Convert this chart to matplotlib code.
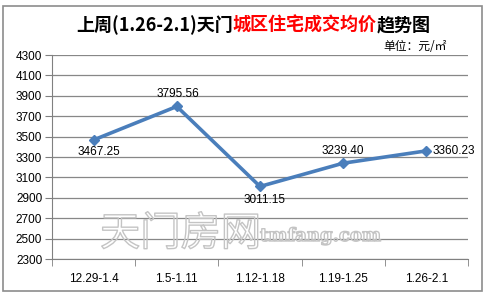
import matplotlib
matplotlib.use("Agg")
import matplotlib.pyplot as plt
import matplotlib.patheffects as pe
from matplotlib.patches import Rectangle

plt.rcParams['font.family'] = ['Noto Sans CJK SC', 'DejaVu Sans']

categories = ["12.29-1.4", "1.5-1.11", "1.12-1.18", "1.19-1.25", "1.26-2.1"]
values = [3467.25, 3795.56, 3011.15, 3239.40, 3360.23]
labels = ["3467.25", "3795.56", "3011.15", "3239.40", "3360.23"]
yticks = list(range(2300, 4301, 200))

W, H = 487, 297
fig = plt.figure(figsize=(W/100, H/100), dpi=100)
fig.patch.set_facecolor("white")

# chart border
fig.patches.append(Rectangle((3/W, 6/H), 479/W, 285/H, transform=fig.transFigure,
                             fill=False, edgecolor="#8c8c8c", linewidth=1.2))

ax = fig.add_axes([52/W, 1-259/H, 416/W, 204/H])
x = list(range(len(categories)))
ax.plot(x, values, color="#4a7ebb", linewidth=2.6, marker="D", markersize=5.5, zorder=3)
ax.set_xlim(-0.5, len(categories)-0.5)
ax.set_ylim(2300, 4300)
ax.set_yticks(yticks)
lf = ['Liberation Sans', 'DejaVu Sans']
ax.set_yticklabels([str(v) for v in yticks], fontsize=8.5, family=lf)
ax.set_xticks(x)
ax.set_xticklabels(categories, fontsize=8.5, family=lf)
ax.set_xticks([i-0.5 for i in range(len(categories)+1)], minor=True)
ax.tick_params(axis='x', which='major', length=0, pad=10)
ax.tick_params(axis='x', which='minor', length=5, color="#808080")
ax.tick_params(axis='y', length=5, color="#808080", pad=2)
ax.grid(axis='y', color="#878787", linewidth=0.9)
ax.set_axisbelow(True)
for s in ["top", "right"]:
    ax.spines[s].set_visible(False)
for s in ["left", "bottom"]:
    ax.spines[s].set_color("#808080")

offsets = [(4, -9), (1, 9), (3, -10), (0, 9), (20, 0)]
for xi, v, lab, off in zip(x, values, labels, offsets):
    ax.annotate(lab, (xi, v), xytext=off, textcoords="offset points", ha="center", va="center",
                fontsize=8.5, family=lf, zorder=4)

# watermark (outline only)
wm_fx = [pe.Stroke(linewidth=1.0, foreground="#c4c4c4")]
fig.text(100/W, 1-234/H, "天门房网", ha="left", va="center", fontsize=29,
         color="none", path_effects=wm_fx, zorder=5)
fig.text(260/W, 1-236/H, "tmfang.com", ha="left", va="center", fontsize=13, fontweight="bold",
         family=['DejaVu Serif'], color="none", path_effects=wm_fx, zorder=5)

# title
renderer = fig.canvas.get_renderer()
parts = [("上周(1.26-2.1)天门", "black"), ("城区住宅成交均价", "#ff0000"), ("趋势图", "black")]
texts = []
for s, c in parts:
    tt = fig.text(0, 1-25/H, s, ha="left", va="center", fontsize=13, fontweight="bold", color=c)
    texts.append(tt)
widths = [tt.get_window_extent(renderer).width for tt in texts]
total = sum(widths)
start = (W - total) / 2 + 10
for tt, w in zip(texts, widths):
    tt.set_x(start / W)
    start += w

fig.text(447/W, 1-46/H, "单位：元/㎡", ha="right", va="center", fontsize=8.5)

fig.savefig("out.png", dpi=100)
